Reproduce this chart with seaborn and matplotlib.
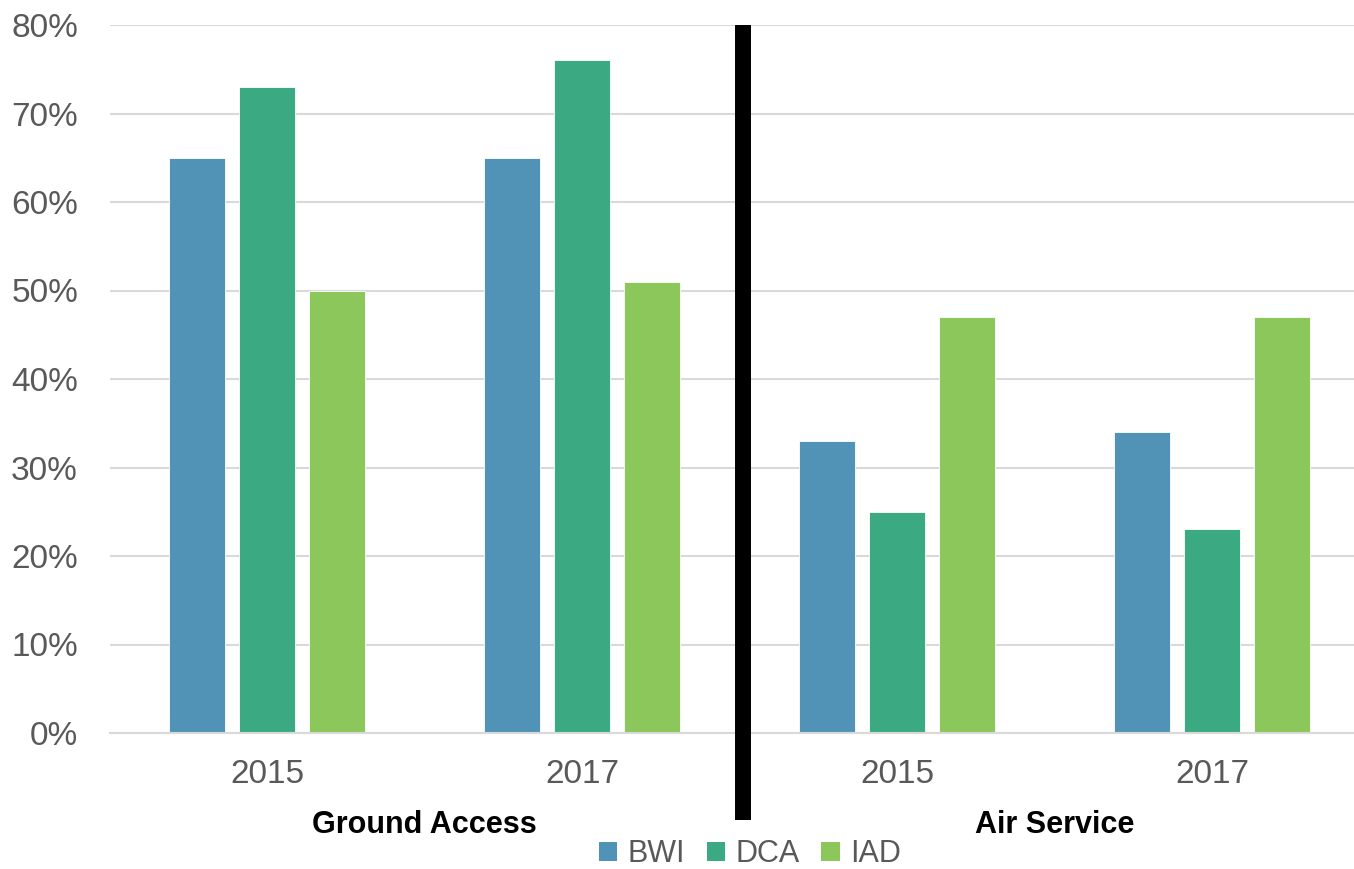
import matplotlib
matplotlib.use("Agg")
import matplotlib.pyplot as plt
import matplotlib.transforms as mtransforms
from matplotlib.patches import Patch
from matplotlib.ticker import FuncFormatter
import pandas as pd
import seaborn as sns

# Survey data: share of respondents by airport, topic and year
slots = ["Ground Access 2015", "Ground Access 2017", "Air Service 2015", "Air Service 2017"]
slot_labels = ["2015", "2017", "2015", "2017"]
sections = ["Ground Access", "Air Service"]
airports = ["BWI", "DCA", "IAD"]
bwi = [65, 65, 33, 34]
dca = [73, 76, 25, 23]
iad = [50, 51, 47, 47]
colors = ["#5193B7", "#3BAA82", "#8BC75A"]
y_ticks = [0, 10, 20, 30, 40, 50, 60, 70, 80]

rows = []
for name, vals in zip(airports, [bwi, dca, iad]):
    for slot, v in zip(slots, vals):
        rows.append({"slot": slot, "airport": name, "value": v})
df = pd.DataFrame(rows)

sns.set_theme(style="white")
plt.rcParams["font.family"] = ["Liberation Sans", "DejaVu Sans"]

W, H = 1354, 869
fig = plt.figure(figsize=(W / 100, H / 100), dpi=100)
ax = fig.add_axes([110 / W, (H - 733) / H, 1 - 110 / W, (733 - 25) / H])

sns.barplot(data=df, x="slot", y="value", hue="airport", order=slots,
            hue_order=airports, palette=colors, width=0.667, gap=0.21,
            saturation=1, edgecolor="white", linewidth=0.6, legend=False, ax=ax)

ax.set_ylim(0, 80)
ax.set_yticks(y_ticks)
ax.yaxis.set_major_formatter(FuncFormatter(lambda v, _: f"{v:.0f}%"))
ax.set_xlim(-157 / 315, (W - 267) / 315)
ax.set_xticks(range(len(slots)))
ax.set_xticklabels(slot_labels)
ax.set_xlabel("")
ax.set_ylabel("")

ax.grid(axis="y", color="#D9D9D9", linewidth=1.5)
ax.set_axisbelow(True)
for side in ["left", "right", "top"]:
    ax.spines[side].set_visible(False)
ax.spines["bottom"].set_color("#D9D9D9")
ax.spines["bottom"].set_linewidth(1.5)
ax.tick_params(axis="both", length=0, labelsize=24, labelcolor="#595959")
ax.tick_params(axis="y", pad=23)
ax.tick_params(axis="x", pad=19)

# Divider between the two survey sections
trans = mtransforms.blended_transform_factory(ax.transData, ax.transAxes)
ax.plot([1.51, 1.51], [1.0, -0.123], transform=trans, color="black",
        linewidth=11.5, solid_capstyle="butt", clip_on=False, zorder=5)

# Section captions under the year labels
for i, sec in enumerate(sections):
    ax.text(2 * i + 0.5, -0.130, sec, transform=trans, ha="center", va="center",
            fontsize=22, color="black", fontweight="bold")

handles = [Patch(facecolor=c, edgecolor="none", label=a) for a, c in zip(airports, colors)]
leg = fig.legend(handles=handles, loc="center", bbox_to_anchor=(750 / W, (H - 854) / H),
                 ncol=3, frameon=False, fontsize=22, handlelength=0.6, handleheight=0.6,
                 handletextpad=0.35, columnspacing=0.7, borderpad=0.1)
for t in leg.get_texts():
    t.set_color("#595959")

fig.savefig("out.png", dpi=100, facecolor="white")
